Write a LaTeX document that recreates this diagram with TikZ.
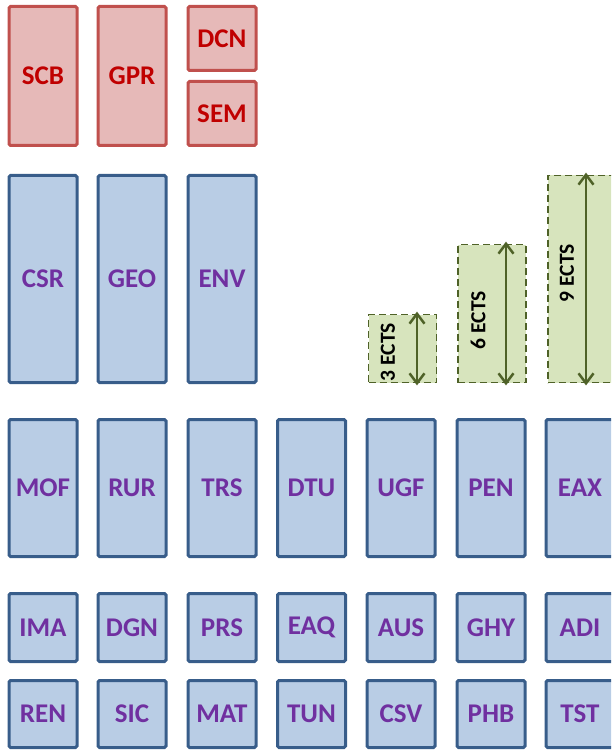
\documentclass[tikz,border=0pt]{standalone}
\usepackage{fontspec}
\setmainfont{Carlito}
\usetikzlibrary{arrows.meta}
\definecolor{redfill}{HTML}{E6B9B8}
\definecolor{redline}{HTML}{C0504D}
\definecolor{redtext}{HTML}{C00000}
\definecolor{bluefill}{HTML}{B9CDE5}
\definecolor{blueline}{HTML}{385D8A}
\definecolor{bluetext}{HTML}{7030A0}
\definecolor{greenfill}{HTML}{D7E4BD}
\definecolor{greenline}{HTML}{4F6228}
\tikzset{
  box/.style={rectangle, rounded corners=1.5pt, line width=3pt, inner sep=0pt,
    font=\fontsize{27}{27}\selectfont\bfseries, minimum width=68pt},
  redbox/.style={box, draw=redline, fill=redfill, text=redtext},
  bluebox/.style={box, draw=blueline, fill=bluefill, text=bluetext},
  greenbox/.style={rectangle, draw=greenline, fill=greenfill, line width=1.8pt,
    dash pattern=on 7pt off 4pt, inner sep=0pt, minimum width=68pt},
  ectslabel/.style={rotate=90, inner sep=0pt, font=\fontsize{21.5}{21.5}\selectfont\bfseries, text=black},
  ectsarrow/.style={draw=greenline, line width=2.5pt,
    {Straight Barb[length=10pt,width=15pt,line width=2.5pt]}-{Straight Barb[length=10pt,width=15pt,line width=2.5pt]}},
}
\begin{document}
\begin{tikzpicture}[x=1pt,y=-1pt]
\useasboundingbox (0,0) rectangle (611,751);
\clip (0,0) rectangle (611,751);
% red row
\node[redbox, minimum height=139pt] (SCB) at (43,76) {SCB};
\node[redbox, minimum height=139pt] (GPR) at (132,76) {GPR};
\node[redbox, minimum height=64pt] (DCN) at (222,38.5) {DCN};
\node[redbox, minimum height=64pt] (SEM) at (222,113.5) {SEM};
% tall blue row
\node[bluebox, minimum height=207pt] (CSR) at (43,279) {CSR};
\node[bluebox, minimum height=207pt] (GEO) at (132,279) {GEO};
\node[bluebox, minimum height=207pt] (ENV) at (222,279) {ENV};
% green ECTS boxes
\node[greenbox, minimum height=68pt] (E3) at (402.5,348.5) {};
\node[greenbox, minimum height=138pt] (E6) at (492,313.5) {};
\node[greenbox, minimum height=207pt] (E9) at (582,279) {};
\node[ectslabel] (L3) at (388,352) {3 ECTS};
\node[ectslabel] (L6) at (478,320) {6 ECTS};
\node[ectslabel] (L9) at (567,273) {9 ECTS};
\coordinate (a3) at (417,0);
\coordinate (a6) at (506,0);
\coordinate (a9) at (586,0);
\draw[ectsarrow] ([yshift=2pt]E3.north -| a3) -- ([yshift=-2pt]E3.south -| a3);
\draw[ectsarrow] ([yshift=2pt]E6.north -| a6) -- ([yshift=-2pt]E6.south -| a6);
\draw[ectsarrow] ([yshift=2pt]E9.north -| a9) -- ([yshift=-2pt]E9.south -| a9);
% middle row
\node[bluebox, minimum height=137pt] (MOF) at (43,488) {MOF};
\node[bluebox, minimum height=137pt] (RUR) at (132,488) {RUR};
\node[bluebox, minimum height=137pt] (TRS) at (222,488) {TRS};
\node[bluebox, minimum height=137pt] (DTU) at (311.5,488) {DTU};
\node[bluebox, minimum height=137pt] (UGF) at (401,488) {UGF};
\node[bluebox, minimum height=137pt] (PEN) at (491,488) {PEN};
\node[bluebox, minimum height=137pt] (EAX) at (580,488) {EAX};
% small rows
\node[bluebox, minimum height=68pt] (IMA) at (43,627.5) {IMA};
\node[bluebox, minimum height=68pt] (DGN) at (132,627.5) {DGN};
\node[bluebox, minimum height=68pt] (PRS) at (222,627.5) {PRS};
\node[bluebox, minimum height=68pt] (EAQ) at (311.5,627.5) {EAQ};
\node[bluebox, minimum height=68pt] (AUS) at (401,627.5) {AUS};
\node[bluebox, minimum height=68pt] (GHY) at (491,627.5) {GHY};
\node[bluebox, minimum height=68pt] (ADI) at (580,627.5) {ADI};
\node[bluebox, minimum height=67pt] (REN) at (43,714) {REN};
\node[bluebox, minimum height=67pt] (SIC) at (132,714) {SIC};
\node[bluebox, minimum height=67pt] (MAT) at (222,714) {MAT};
\node[bluebox, minimum height=67pt] (TUN) at (311.5,714) {TUN};
\node[bluebox, minimum height=67pt] (CSV) at (401,714) {CSV};
\node[bluebox, minimum height=67pt] (PHB) at (491,714) {PHB};
\node[bluebox, minimum height=67pt] (TST) at (580,714) {TST};
\end{tikzpicture}
\end{document}
